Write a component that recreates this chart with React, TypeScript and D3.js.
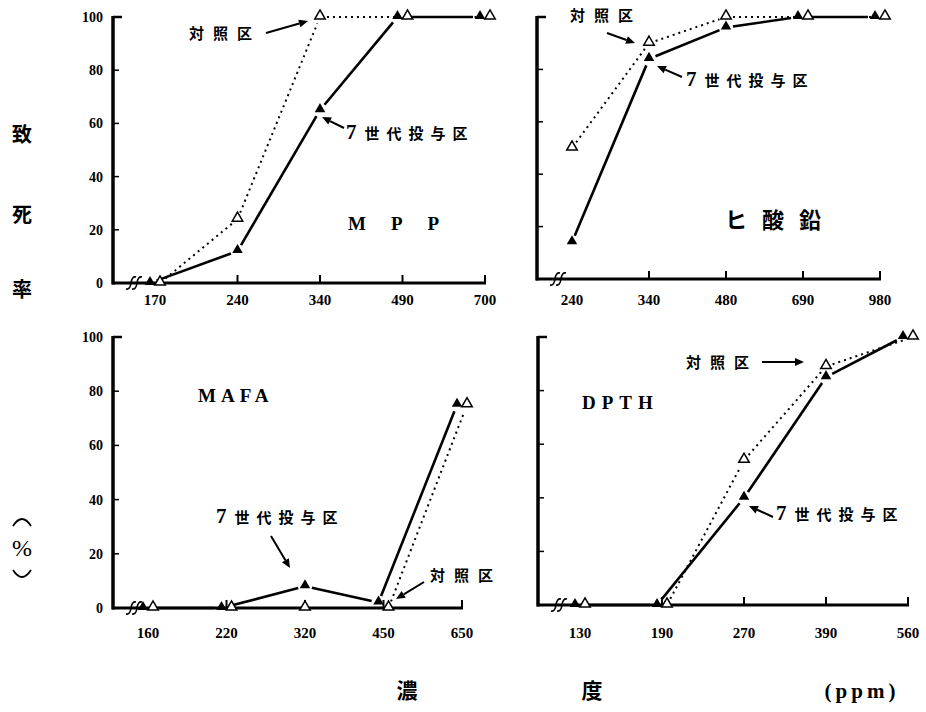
import React from "react";
import * as d3 from "d3";

// y axis ticks (lethality %)
const yTicks = [0, 20, 40, 60, 80, 100];

// MPP
const mppDoses = ["170", "240", "340", "490", "700"];
const mppTreated = [0, 12, 65, 100, 100];
const mppControl = [0, 24, 100, 100, 100];

// ヒ酸鉛
const leadDoses = ["240", "340", "480", "690", "980"];
const leadTreated = [14, 84, 96, 100, 100];
const leadControl = [50, 90, 100, 100, 100];

// MAFA
const mafaDoses = ["160", "220", "320", "450", "650"];
const mafaTreated = [0, 0, 8, 2, 75];
const mafaControl = [0, 0, 0, 0, 75];

// DPTH
const dpthDoses = ["130", "190", "270", "390", "560"];
const dpthTreated = [0, 0, 40, 85, 100];
const dpthControl = [0, 0, 54, 89, 100];

const NUM_FONT = "'Liberation Serif', 'DejaVu Serif', serif";
const CJK_FONT = "'Noto Sans CJK JP', 'Noto Sans', sans-serif";

const panels = [
  { key: "mpp", doses: mppDoses, treated: mppTreated, control: mppControl, left: 113, top: 17, bottom: 283, xr: [155, 485], yLabels: true, labelY: 305 },
  { key: "lead", doses: leadDoses, treated: leadTreated, control: leadControl, left: 537, top: 17, bottom: 279, xr: [572, 880], yLabels: false, labelY: 305 },
  { key: "mafa", doses: mafaDoses, treated: mafaTreated, control: mafaControl, left: 113, top: 337, bottom: 608, xr: [148, 462], yLabels: true, labelY: 638 },
  { key: "dpth", doses: dpthDoses, treated: dpthTreated, control: dpthControl, left: 538, top: 337, bottom: 605, xr: [580, 908], yLabels: false, labelY: 638 },
];

function shortSeg(a, b, g) {
  const dx = b[0] - a[0];
  const dy = b[1] - a[1];
  const L = Math.hypot(dx, dy);
  if (L < 2 * g + 2) return null;
  const ux = dx / L, uy = dy / L;
  return [a[0] + ux * g, a[1] + uy * g, b[0] - ux * g, b[1] - uy * g];
}

function Arrow({ x1, y1, x2, y2 }) {
  const ang = Math.atan2(y2 - y1, x2 - x1);
  const hl = 9, hw = 4;
  const bx = x2 - Math.cos(ang) * hl;
  const by = y2 - Math.sin(ang) * hl;
  const px = -Math.sin(ang) * hw, py = Math.cos(ang) * hw;
  return (
    <g>
      <line x1={x1} y1={y1} x2={bx} y2={by} stroke="#000" strokeWidth={2} />
      <polygon points={`${x2},${y2} ${bx + px},${by + py} ${bx - px},${by - py}`} fill="#000" />
    </g>
  );
}

function Gen7({ x, y }) {
  return (
    <text x={x} y={y} fontFamily={CJK_FONT} fontWeight="bold" fontSize={15} fill="#000">
      <tspan fontFamily={NUM_FONT} fontSize={21}>7</tspan>
      <tspan dx={8} letterSpacing={7}>世代投与区</tspan>
    </text>
  );
}

function Ctrl({ x, y }) {
  return (
    <text x={x} y={y} fontFamily={CJK_FONT} fontWeight="bold" fontSize={15} letterSpacing={9} fill="#000">対照区</text>
  );
}

function Panel({ p }) {
  const x = d3.scalePoint().domain(p.doses).range(p.xr);
  const y = d3.scaleLinear().domain([0, 100]).range([p.bottom, p.top]);
  const tri = d3.symbol(d3.symbolTriangle, 48)();

  const pos = (i, which) => {
    const same = Math.abs(p.treated[i] - p.control[i]) < 3;
    const off = same ? (which === "t" ? -5 : 5) : 0;
    const v = which === "t" ? p.treated[i] : p.control[i];
    return [x(p.doses[i]) + off, y(v)];
  };

  const segs = (which) =>
    p.doses.slice(1).map((d, k) => shortSeg(pos(k, which), pos(k + 1, which), 7)).filter(Boolean);

  const axisEnd = p.xr[1];
  const bx = p.left + 18;

  return (
    <g>
      {/* axes */}
      <line x1={p.left} y1={p.top - 1} x2={p.left} y2={p.bottom + 1.5} stroke="#000" strokeWidth={3.5} />
      <line x1={p.left - 1} y1={p.bottom} x2={axisEnd + 1} y2={p.bottom} stroke="#000" strokeWidth={3} />
      {yTicks.map((t) => (
        <line key={t} x1={p.left} x2={p.left + (t === 100 ? 9 : 6)} y1={y(t)} y2={y(t)} stroke="#000" strokeWidth={t === 100 ? 2.5 : 1.5} />
      ))}
      {p.doses.slice(1).map((d) => (
        <line key={d} x1={x(d)} x2={x(d)} y1={p.bottom} y2={p.bottom - 8} stroke="#000" strokeWidth={2} />
      ))}
      {/* axis break */}
      {[0, 6].map((o) => (
        <path key={o} d={`M ${bx + o - 5} ${p.bottom + 6} Q ${bx + o - 1} ${p.bottom + 7} ${bx + o} ${p.bottom} T ${bx + o + 5} ${p.bottom - 6}`} fill="none" stroke="#000" strokeWidth={1.6} />
      ))}
      {p.yLabels &&
        yTicks.map((t) => (
          <text key={t} x={p.left - 10} y={y(t) + 5} textAnchor="end" fontFamily={NUM_FONT} fontWeight="bold" fontSize={14} fill="#000">{t}</text>
        ))}
      {p.doses.map((d) => (
        <text key={d} x={x(d)} y={p.labelY} textAnchor="middle" fontFamily={NUM_FONT} fontWeight="bold" fontSize={15} fill="#000">{d}</text>
      ))}
      {/* control: dotted */}
      {segs("c").map((s, i) => (
        <line key={"c" + i} x1={s[0]} y1={s[1]} x2={s[2]} y2={s[3]} stroke="#000" strokeWidth={2} strokeDasharray="2 4" />
      ))}
      {/* treated: solid */}
      {segs("t").map((s, i) => (
        <line key={"t" + i} x1={s[0]} y1={s[1]} x2={s[2]} y2={s[3]} stroke="#000" strokeWidth={2.6} />
      ))}
      {p.doses.map((d, i) => {
        const [cx, cy] = pos(i, "c");
        return <path key={"oc" + d} d={tri} transform={`translate(${cx},${cy - 1})`} fill="#fff" stroke="#000" strokeWidth={1.5} />;
      })}
      {p.doses.map((d, i) => {
        const [cx, cy] = pos(i, "t");
        return <path key={"ft" + d} d={tri} transform={`translate(${cx},${cy - 1})`} fill="#000" />;
      })}
    </g>
  );
}

export default function App() {
  return (
    <div style={{ position: "absolute", left: 0, top: 0 }}>
      <svg width={926} height={712} style={{ display: "block", background: "#fff" }}>
        {panels.map((p) => (
          <Panel key={p.key} p={p} />
        ))}

        {/* MPP annotations */}
        <Ctrl x={189} y={39} />
        <Arrow x1={266} y1={33} x2={308} y2={21} />
        <Gen7 x={346} y={139} />
        <Arrow x1={344} y1={128} x2={322} y2={117} />
        <text x={348} y={230} fontFamily={NUM_FONT} fontWeight="bold" fontSize={19} letterSpacing={25} fill="#000">MPP</text>

        {/* ヒ酸鉛 annotations */}
        <Ctrl x={570} y={21} />
        <Arrow x1={607} y1={33} x2={635} y2={43} />
        <Gen7 x={686} y={86} />
        <Arrow x1={682} y1={77} x2={657} y2={66} />
        <text x={725} y={228} fontFamily={CJK_FONT} fontWeight="bold" fontSize={22} letterSpacing={15} fill="#000">ヒ酸鉛</text>

        {/* MAFA annotations */}
        <text x={198} y={402} fontFamily={NUM_FONT} fontWeight="bold" fontSize={19} letterSpacing={5} fill="#000">MAFA</text>
        <Gen7 x={216} y={523} />
        <Arrow x1={271} y1={536} x2={290} y2={568} />
        <Ctrl x={430} y={581} />
        <Arrow x1={424} y1={582} x2={396} y2={599} />

        {/* DPTH annotations */}
        <text x={582} y={409} fontFamily={NUM_FONT} fontWeight="bold" fontSize={19} letterSpacing={6} fill="#000">DPTH</text>
        <Ctrl x={686} y={368} />
        <Arrow x1={762} y1={362} x2={804} y2={362} />
        <Gen7 x={776} y={520} />
        <Arrow x1={773} y1={517} x2={749} y2={506} />

        {/* y title */}
        <g fontFamily={CJK_FONT} fontWeight="bold" fontSize={20} fill="#000" textAnchor="middle">
          <text x={22} y={142}>致</text>
          <text x={22} y={222}>死</text>
          <text x={22} y={297}>率</text>
          <text x={22} y={556} fontFamily={NUM_FONT} fontWeight="normal" fontSize={24}>%</text>
        </g>
        <path d="M 13 526 Q 22 512 31 526" fill="none" stroke="#000" strokeWidth={1.8} />
        <path d="M 13 570 Q 22 584 31 570" fill="none" stroke="#000" strokeWidth={1.8} />

        {/* x title */}
        <text x={407} y={698} textAnchor="middle" fontFamily={CJK_FONT} fontWeight="bold" fontSize={21} fill="#000">濃</text>
        <text x={592} y={698} textAnchor="middle" fontFamily={CJK_FONT} fontWeight="bold" fontSize={21} fill="#000">度</text>
        <text x={862} y={698} textAnchor="middle" fontFamily={NUM_FONT} fontWeight="bold" fontSize={21} letterSpacing={4} fill="#000">(ppm)</text>
      </svg>
    </div>
  );
}
